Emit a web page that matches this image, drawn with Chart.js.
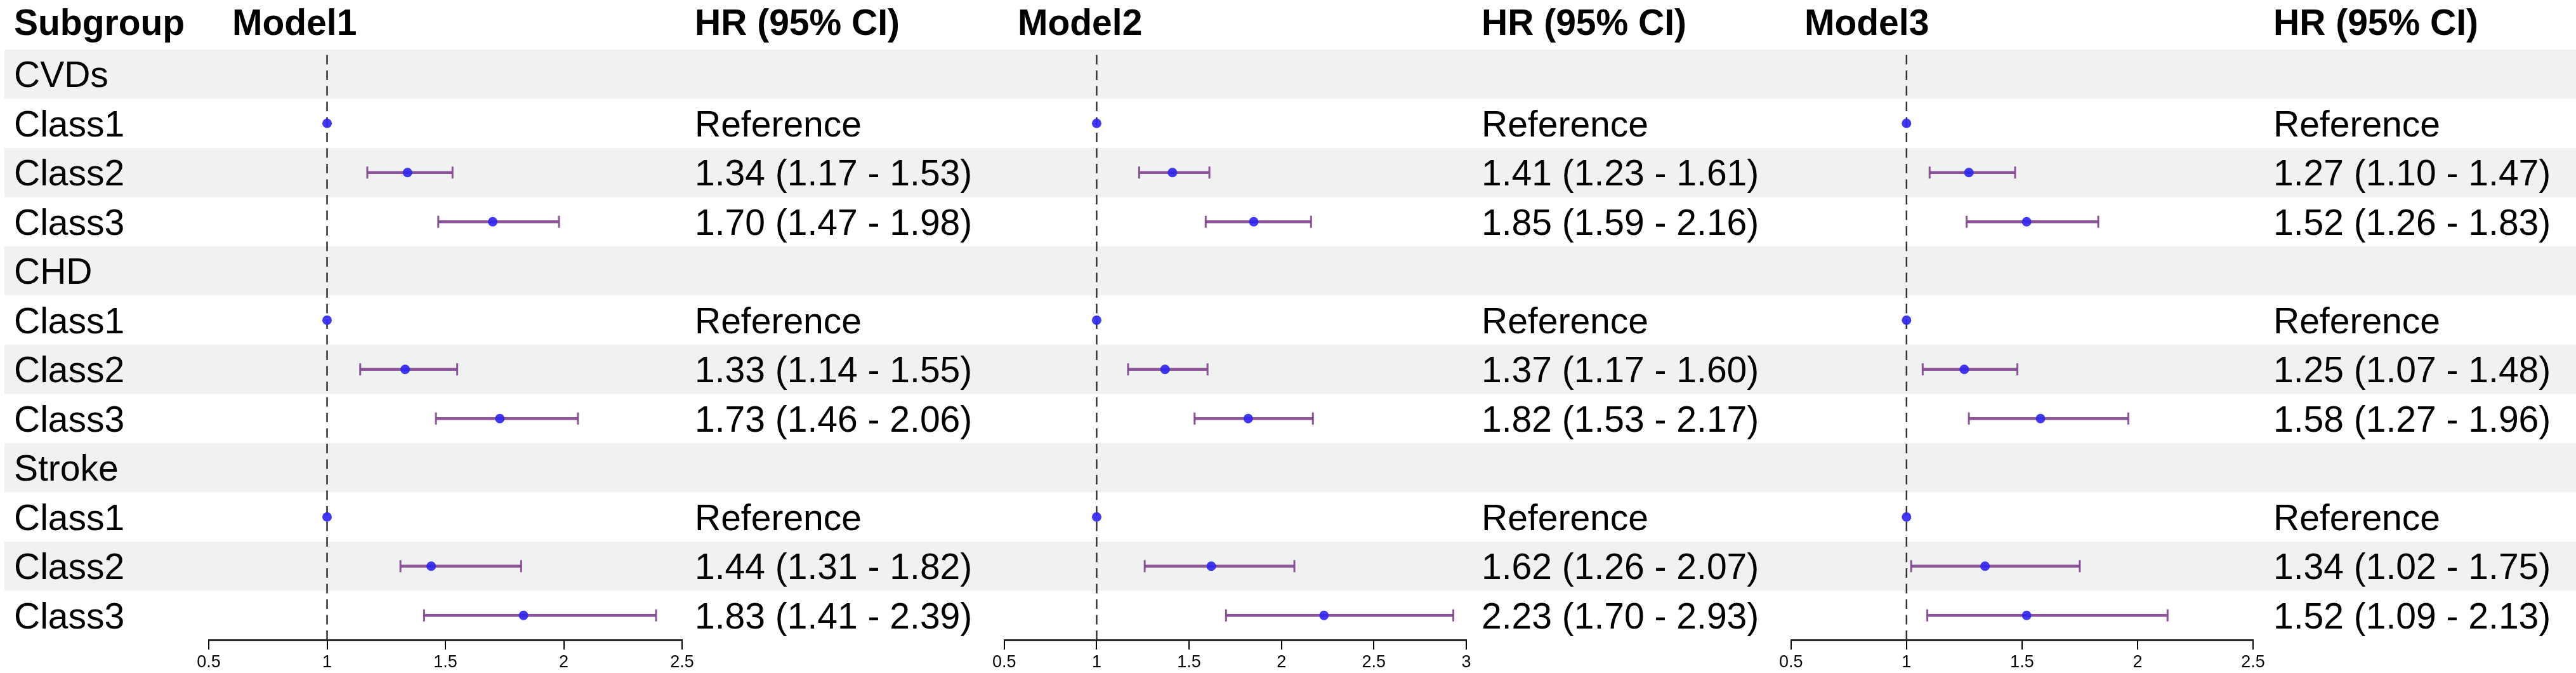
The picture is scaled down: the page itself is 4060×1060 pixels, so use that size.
<!DOCTYPE html>
<html>
<head>
<meta charset="utf-8">
<script src="https://cdn.jsdelivr.net/npm/chart.js@4.4.1/dist/chart.umd.min.js"></script>
<style>
  body { margin: 0; background: #fff; }
  #wrap { position: relative; width: 4060px; height: 1060px; }
  canvas { position: absolute; top: 0; }
</style>
</head>
<body>
<div id="wrap">
  <canvas id="c1" width="1560" height="1060" style="left:0px"></canvas>
  <canvas id="c2" width="1240" height="1060" style="left:1560px"></canvas>
  <canvas id="c3" width="1260" height="1060" style="left:2800px"></canvas>
</div>
<script>
// rows, top to bottom
var rowLabels = ['CVDs', 'Class1', 'Class2', 'Class3',
                 'CHD', 'Class1', 'Class2', 'Class3',
                 'Stroke', 'Class1', 'Class2', 'Class3'];
var refValue = 1;

// hazard ratios (null = group heading row), lower / upper 95% CI (null = reference)
var model1HR = [null, 1, 1.34, 1.70, null, 1, 1.33, 1.73, null, 1, 1.44, 1.83];
var model1Lo = [null, null, 1.17, 1.47, null, null, 1.14, 1.46, null, null, 1.31, 1.41];
var model1Hi = [null, null, 1.53, 1.98, null, null, 1.55, 2.06, null, null, 1.82, 2.39];

var model2HR = [null, 1, 1.41, 1.85, null, 1, 1.37, 1.82, null, 1, 1.62, 2.23];
var model2Lo = [null, null, 1.23, 1.59, null, null, 1.17, 1.53, null, null, 1.26, 1.70];
var model2Hi = [null, null, 1.61, 2.16, null, null, 1.60, 2.17, null, null, 2.07, 2.93];

var model3HR = [null, 1, 1.27, 1.52, null, 1, 1.25, 1.58, null, 1, 1.34, 1.52];
var model3Lo = [null, null, 1.10, 1.26, null, null, 1.07, 1.27, null, null, 1.02, 1.09];
var model3Hi = [null, null, 1.47, 1.83, null, null, 1.48, 1.96, null, null, 1.75, 2.13];

var xMins = [0.5, 0.5, 0.5];
var xMaxs = [2.5, 3, 2.5];
var modelNames = ['Model1', 'Model2', 'Model3'];

var FONT = '"Liberation Sans", Arial, Helvetica, sans-serif';
var blue = 'rgba(48, 40, 240, 0.92)';
var purple = 'rgba(134, 74, 148, 0.95)';
var stripe = '#eff2f1';

Chart.defaults.font.family = FONT;

// layout of each panel inside the page (pixels)
var panels = [
  { id: 'c1', left: 0,    width: 1560, axisL: 329,  axisR: 1075, titleX: 366, hrX: 1095, subgroup: true },
  { id: 'c2', left: 1560, width: 1240, axisL: 1568, axisR: 2311, titleX: 44,  hrX: 775,  subgroup: false },
  { id: 'c3', left: 2800, width: 1260, axisL: 2806, axisR: 3551, titleX: 44,  hrX: 783,  subgroup: false }
];

function hrText(hr, lo, hi) {
  if (hr === null) return '';
  if (lo === null) return 'Reference';
  return hr.toFixed(2) + ' (' + lo.toFixed(2) + ' - ' + hi.toFixed(2) + ')';
}

var tablePlugin = {
  id: 'table',
  beforeDraw: function(chart, args, opts) {
    var ctx = chart.ctx, ys = chart.scales.y;
    ctx.save();
    ctx.fillStyle = stripe;
    for (var i = 0; i < rowLabels.length; i += 2) {
      var y0 = ys.getPixelForValue(i - 0.5), y1 = ys.getPixelForValue(i + 0.5);
      ctx.fillRect(opts.stripeX, y0, chart.width - opts.stripeX, y1 - y0);
    }
    ctx.restore();
  },
  afterDraw: function(chart, args, opts) {
    var ctx = chart.ctx, ys = chart.scales.y;
    ctx.save();
    ctx.fillStyle = '#000';
    ctx.textAlign = 'left';
    ctx.textBaseline = 'alphabetic';
    ctx.font = 'bold 57px ' + FONT;
    if (opts.subgroup) ctx.fillText('Subgroup', 22, 55);
    ctx.fillText(opts.title, opts.titleX, 55);
    ctx.fillText('HR (95% CI)', opts.hrX, 55);
    ctx.font = '57px ' + FONT;
    for (var i = 0; i < rowLabels.length; i++) {
      var yb = ys.getPixelForValue(i) + 20.5;
      if (opts.subgroup) ctx.fillText(rowLabels[i], 22, yb);
      ctx.fillText(opts.texts[i], opts.hrX, yb);
    }
    ctx.restore();
  }
};

function buildPanel(k, hrs, los, his) {
  var p = panels[k];
  var datasets = [];
  var dots = [], caps = [];
  for (var i = 0; i < rowLabels.length; i++) {
    if (hrs[i] === null) continue;
    dots.push({ x: hrs[i], y: i });
    if (los[i] !== null) {
      caps.push({ x: los[i], y: i }, { x: his[i], y: i });
    }
  }
  datasets.push({
    type: 'scatter', data: dots, order: 0,
    pointStyle: 'circle', pointRadius: 7.5, pointBorderWidth: 0,
    pointBackgroundColor: blue, backgroundColor: blue
  });
  datasets.push({
    type: 'scatter', data: caps, order: 1,
    pointStyle: 'line', rotation: 90, pointRadius: 9.5, pointBorderWidth: 3,
    pointBorderColor: purple, borderColor: purple
  });
  for (var j = 0; j < rowLabels.length; j++) {
    if (los[j] === null) continue;
    datasets.push({
      type: 'line', data: [{ x: los[j], y: j }, { x: his[j], y: j }], order: 2,
      borderColor: purple, borderWidth: 4.5, pointRadius: 0, fill: false
    });
  }
  datasets.push({
    type: 'line', data: [{ x: refValue, y: -0.5 }, { x: refValue, y: rowLabels.length - 0.5 }], order: 3,
    borderColor: '#333', borderWidth: 2.5, borderDash: [15, 9.5], borderDashOffset: 16,
    pointRadius: 0, fill: false
  });

  var texts = rowLabels.map(function(_, i) { return hrText(hrs[i], los[i], his[i]); });

  new Chart(document.getElementById(p.id).getContext('2d'), {
    type: 'scatter',
    data: { datasets: datasets },
    options: {
      responsive: false,
      animation: false,
      events: [],
      layout: { padding: { left: p.axisL - p.left, right: p.left + p.width - p.axisR, top: 78, bottom: 0 } },
      scales: {
        x: {
          type: 'linear', position: 'bottom', min: xMins[k], max: xMaxs[k],
          ticks: { stepSize: 0.5, color: '#000', font: { size: 27 }, padding: 4, maxRotation: 0,
                   callback: function(v) { return String(v); } },
          grid: { drawOnChartArea: false, drawTicks: true, tickLength: 15, color: '#000', lineWidth: 2 },
          border: { display: true, color: '#000', width: 2.5 },
          afterFit: function(s) { s.height = 52; }
        },
        y: { type: 'linear', min: -0.5, max: rowLabels.length - 0.5, reverse: true, display: false }
      },
      plugins: {
        legend: { display: false },
        tooltip: { enabled: false },
        table: { stripeX: p.subgroup ? 7 : 0, subgroup: p.subgroup, title: modelNames[k],
                 titleX: p.titleX, hrX: p.hrX, texts: texts }
      }
    },
    plugins: [tablePlugin]
  });
}

buildPanel(0, model1HR, model1Lo, model1Hi);
buildPanel(1, model2HR, model2Lo, model2Hi);
buildPanel(2, model3HR, model3Lo, model3Hi);
</script>
</body>
</html>
